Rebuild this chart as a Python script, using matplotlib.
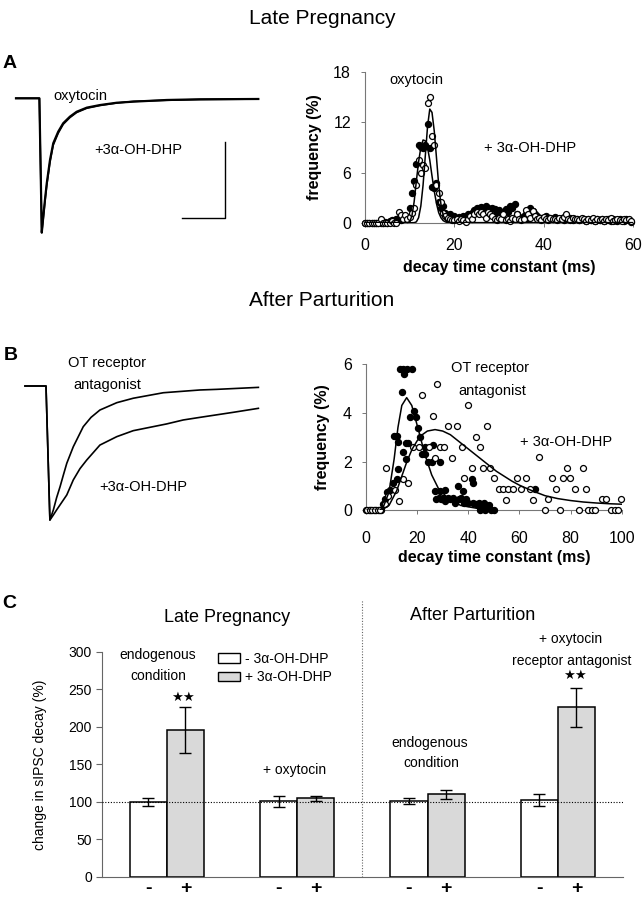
import numpy as np
import matplotlib
matplotlib.use('Agg')
import matplotlib.pyplot as plt
from matplotlib.patches import Patch

plt.rcParams['font.family'] = ['Liberation Sans', 'DejaVu Sans']

# ---- data -------------------------------------------------------------
# A: example traces (ms, pA)
trA_t = [0, 10.8, 11.9, 12.6, 13.4, 14.2, 15.7, 17.2, 19.5, 21.8, 24.9, 28.0,
         32.7, 38.8, 46.5, 54.2, 69.6, 85.0, 111.9]
trA_oxy = [0, 0, -87.8, -77.4, -66.0, -55.6, -40.3, -29.4, -21.8, -16.3, -12.0,
           -8.8, -6.1, -4.4, -2.9, -2.2, -1.1, -0.65, -0.45]
trA_dhp = [0, 0, -87.8, -78.4, -67.2, -57.0, -41.8, -30.6, -22.8, -17.0, -12.6,
           -9.3, -6.5, -4.7, -3.1, -2.0, -1.3, -0.8, -0.5]

# B: example traces (ms, pA)
trB_ant_t = [0, 9.7, 11.5, 13.1, 14.6, 16.2, 17.8, 19.3, 22.3, 26.9, 30.5, 34.6,
             42.4, 50.0, 63.9, 80.8, 88.5, 107.8]
trB_ant = [0, 0, -87.6, -81.0, -73.0, -65.8, -57.8, -50.5, -39.7, -26.6, -20.5,
           -15.7, -10.9, -8.0, -4.4, -2.6, -2.2, -0.9]
trB_dhp_t = [0, 9.7, 11.5, 13.0, 14.6, 17.0, 19.3, 22.3, 25.4, 28.5, 34.6, 42.4,
             50.0, 57.7, 65.4, 73.1, 80.8, 96.2, 107.8]
trB_dhp = [0, 0, -87.6, -84.5, -81.0, -76.0, -71.2, -61.4, -54.0, -48.4, -38.6,
           -33.1, -29.2, -27.0, -24.8, -22.2, -20.5, -17.2, -14.6]

scalebar_ms, scalebar_pA = 20, 50

# A: decay time constant histograms, 0.5 ms bins
binsA = np.arange(0, 60, 0.5)
A_filled = [0, 0, 0, 0, 0, 0, 0, 0, 0, 0.1,
            0, 0.2, 0.3, 0.2, 0.4, 0.6, 0.3, 0.5, 0.8, 0.4,
            1.8, 3.5, 5.0, 7.0, 9.3, 9.0, 8.9, 9.3, 11.8, 8.9,
            4.3, 4.1, 4.7, 2.5, 1.8, 2.0, 1.2, 0.9, 1.0, 0.6,
            0.8, 0.5, 0.7, 0.4, 0.8, 0.5, 1.0, 0.6, 1.2, 1.5,
            1.8, 1.8, 1.9, 1.8, 2.0, 1.8, 1.5, 1.8, 1.6, 1.2,
            1.5, 1.0, 1.2, 1.6, 1.3, 2.0, 1.8, 2.2, 1.0, 0.7,
            0.5, 0.8, 1.0, 0.6, 1.8, 1.4, 1.0, 0.8, 0.5, 0.6,
            0.4, 0.8, 0.5, 0.6, 0.4, 0.7, 0.5, 0.4, 0.6, 0.3,
            0.5, 0.4, 0.6, 0.3, 0.4, 0.5, 0.3, 0.5, 0.4, 0.2,
            0.4, 0.3, 0.5, 0.2, 0.4, 0.3, 0.5, 0.2, 0.3, 0.4,
            0.2, 0.5, 0.3, 0.2, 0.4, 0.3, 0.2, 0.4, 0.3, 0.1]
A_open = [0, 0, 0, 0, 0, 0, 0, 0.5, 0, 0,
          0, 0, 0.2, 0, 0, 1.3, 0.9, 0.5, 0.9, 0.5,
          0.7, 1.2, 1.8, 4.5, 7.5, 6.0, 6.9, 6.6, 14.3, 15.1,
          10.4, 9.3, 4.5, 3.5, 2.5, 1.2, 0.8, 0.6, 0.4, 0.3,
          0.3, 0.5, 0.2, 0.4, 0.3, 0.1, 0.4, 0.8, 0.5, 1.0,
          1.3, 1.0, 1.3, 1.0, 0.6, 1.3, 1.0, 0.8, 0.5, 0.3,
          0.6, 0.4, 1.0, 0.3, 0.5, 0.2, 0.6, 0.4, 1.0, 0.5,
          0.3, 0.5, 1.5, 1.0, 0.6, 1.4, 0.8, 0.4, 0.6, 0.3,
          0.7, 0.5, 0.3, 0.6, 0.4, 0.5, 0.3, 0.6, 0.4, 0.7,
          1.0, 0.5, 0.3, 0.6, 0.4, 0.5, 0.3, 0.6, 0.4, 0.2,
          0.5, 0.3, 0.6, 0.2, 0.4, 0.3, 0.5, 0.2, 0.4, 0.3,
          0.6, 0.2, 0.3, 0.5, 0.3, 0.2, 0.5, 0.3, 0.4, 0.2]
fitA_open_x = [0, 11, 11.5, 12, 12.5, 13, 13.5, 14, 14.5, 15, 15.5, 16, 16.5,
               17, 17.5, 18, 18.5, 19, 60]
fitA_open_y = [0, 0, 0.1, 0.6, 2.0, 4.5, 8.0, 11.5, 13.6, 13.2, 11.0, 7.8, 4.5,
               2.2, 0.9, 0.3, 0.05, 0, 0]
fitA_filled_x = [0, 9.5, 10, 10.5, 11, 11.5, 12, 12.5, 13, 13.5, 14, 14.5, 15,
                 15.5, 16, 16.5, 17, 17.5, 18, 18.5, 60]
fitA_filled_y = [0, 0, 0.1, 0.8, 2.5, 5.0, 7.3, 9.0, 9.9, 9.8, 9.0, 7.5, 5.6,
                 3.8, 2.3, 1.2, 0.6, 0.25, 0.1, 0, 0]

# B: decay time constant histograms
B_filled_x = [0, 1, 2, 3, 4, 5, 6, 6.8, 7.4, 8.1, 9.4, 10.7, 12.0, 12.6,
              11.1, 12.0, 12.6, 13.3, 14.2, 14.6, 15.0, 15.9, 17.9,
              14.5, 15.5, 15.7, 16.6, 17.2, 18.9, 19.4,
              20.2, 21.1, 22.0, 23.1, 23.1, 24.4, 25.7, 26.3,
              27.0, 28.9, 28.9, 30.9,
              27.5, 28.5, 29.5, 30, 31, 32, 33, 34, 35, 36, 36.5, 37, 38, 38.5,
              39, 40, 41.3, 41.7, 42, 43, 44, 44.5, 45, 46, 46.5, 47, 48, 49, 50,
              66.2]
B_filled_y = [0, 0, 0, 0, 0, 0, 0, 0.27, 0.48, 0.75, 0.82, 1.1, 1.3, 1.71,
              3.05, 3.05, 2.8, 5.8, 4.84, 5.8, 5.6, 5.8, 5.8,
              2.4, 2.1, 2.77, 2.77, 3.83, 4.07, 3.83,
              3.38, 3.01, 2.31, 2.6, 2.31, 2.0, 2.0, 2.68,
              0.8, 2.0, 0.78, 0.82,
              0.45, 0.5, 0.45, 0.5, 0.4, 0.5, 0.45, 0.5, 0.3, 1.0, 0.45, 0.5, 0.8, 0.3,
              0.45, 0.3, 1.3, 1.1, 0.3, 0.25, 0.3, 0, 0.1, 0.3, 0, 0.1, 0.2, 0, 0,
              0.89]
B_open_x = [0.5, 1.5, 2.5, 3.5, 4.5, 5.5,
            7.5, 8.0, 8.7, 11.3, 13.0, 14.6, 16.3, 18.5, 20.7, 21.8,
            24.5, 26.3, 27.0, 27.6, 28.9, 30.5, 32.2, 33.6, 35.5, 37.4,
            38.4, 39.8, 41.5, 42.9, 44.6, 45.8, 47.3, 48.5, 50.2, 52.1,
            53.7, 54.8, 55.7, 57.6, 58.9, 60.6, 62.6, 64.1, 65.4, 67.8,
            70.0, 71.3, 72.6, 74.3, 75.9, 76.9, 78.7, 79.8, 81.7, 83.4,
            84.7, 86.0, 86.9, 88.3, 89.6, 92.2, 93.9, 95.7, 97.4, 98.7,
            99.6]
B_open_y = [0, 0, 0, 0, 0, 0,
            0.27, 1.72, 0.6, 0.82, 0.4, 1.3, 1.12, 2.6, 2.6, 4.73,
            2.58, 3.88, 2.15, 5.17, 2.58, 2.58, 3.47, 2.15, 3.47, 2.58,
            1.33, 4.3, 1.74, 3.0, 2.58, 1.74, 3.45, 1.74, 1.33, 0.89,
            0.89, 0.44, 0.89, 0.89, 1.33, 0.89, 1.33, 0.89, 0.44, 2.17,
            0, 0.45, 1.33, 0.89, 0, 1.33, 1.74, 1.33, 0.89, 0,
            1.74, 0.89, 0, 0, 0, 0.45, 0.45, 0, 0, 0,
            0.45]
fitB_filled_x = [0, 5.5, 7, 9, 11, 12.5, 14, 15.9, 17.9, 20.5, 23, 25.7, 28.3,
                 32, 37, 44, 50]
fitB_filled_y = [0, 0, 0.2, 0.75, 2.1, 3.4, 4.3, 4.62, 4.3, 3.3, 2.3, 1.45, 0.9,
                 0.5, 0.2, 0.07, 0]
fitB_open_x = [6, 9, 12, 14, 16, 18, 20, 22, 24, 27, 30, 33, 36, 39, 42, 45, 48,
               51, 54, 57, 60, 65, 70, 75, 80, 85, 90, 95, 100]
fitB_open_y = [0, 0.2, 0.8, 1.4, 2.0, 2.5, 2.85, 3.1, 3.25, 3.31, 3.25, 3.1,
               2.85, 2.6, 2.35, 2.1, 1.85, 1.6, 1.4, 1.2, 1.03, 0.8, 0.6, 0.48,
               0.4, 0.34, 0.3, 0.27, 0.25]

# C: change in sIPSC decay (%)
conditions = ['LP endogenous', 'LP + oxytocin', 'AP endogenous', 'AP + OT antagonist']
minus_vals = [100, 101, 101, 102]
minus_err = [5, 7.5, 4, 8]
plus_vals = [196, 105, 110, 226]
plus_err = [31, 3.5, 6.5, 26]

# ---- figure -----------------------------------------------------------
W, H = 644, 899
fig = plt.figure(figsize=(W / 100, H / 100), dpi=100)


def px_axes(l, t, r, b):
    return fig.add_axes([l / W, 1 - b / H, (r - l) / W, (b - t) / H])


def ftext(x, y, s, **kw):
    kw.setdefault('ha', 'center')
    kw.setdefault('va', 'center')
    fig.text(x / W, 1 - y / H, s, **kw)


ms_px, pA_px = 2.165, 1.53


def trace_axes(l, t, r, b, x0, y0):
    ax = px_axes(l, t, r, b)
    ax.set_xlim((l - x0) / ms_px, (r - x0) / ms_px)
    ax.set_ylim((y0 - b) / pA_px, (y0 - t) / pA_px)
    ax.axis('off')
    return ax


def hist_axes(ax, xt, yt, xpad):
    for s in ['top', 'right']:
        ax.spines[s].set_visible(False)
    for s in ['left', 'bottom']:
        ax.spines[s].set_color('#777777')
        ax.spines[s].set_linewidth(0.8)
    ax.set_xticks(xt)
    ax.set_yticks(yt)
    ax.tick_params(direction='out', length=3, width=0.7, color='#777777',
                   labelsize=11.5)
    ax.tick_params(axis='y', pad=7)
    ax.tick_params(axis='x', pad=xpad)
    ax.set_ylabel('frequency (%)', fontsize=11.5, fontweight='bold')
    ax.set_xlabel('decay time constant (ms)', fontsize=11.5, fontweight='bold')


def place_labels(ax, l, t, r, b, ylab_right, xlab_top):
    ax.yaxis.set_label_coords((ylab_right - l) / (r - l), 0.5)
    ax.xaxis.set_label_coords(0.5, -(xlab_top - b) / (b - t))


ms = 4.3
# titles and panel letters
ftext(322, 19, 'Late Pregnancy', fontsize=15)
ftext(322, 300, 'After Parturition', fontsize=15)
ftext(10, 64, 'A', fontsize=14, fontweight='bold')
ftext(11, 356, 'B', fontsize=14, fontweight='bold')
ftext(9, 603, 'C', fontsize=14, fontweight='bold')

# --- A traces
axT = trace_axes(0, 55, 300, 245, 16, 98.3)
axT.plot(trA_t, trA_oxy, color='black', lw=1.6)
axT.plot(trA_t, trA_dhp, color='black', lw=1.2)
sb_t, sb_i = 96.5, -78.4
axT.plot([sb_t - scalebar_ms, sb_t, sb_t], [sb_i, sb_i, sb_i + scalebar_pA],
         color='black', lw=1)
ftext(80, 96, 'oxytocin', fontsize=10.5)
ftext(138, 150, '+3α-OH-DHP', fontsize=10.5)

# --- A histogram
A_box = (365, 72.3, 633, 222.7)
axA = px_axes(*A_box)
axA.set_xlim(0, 60)
axA.set_ylim(0, 18)
axA.plot(binsA, A_filled, 'o', color='black', ms=ms, clip_on=False, zorder=3)
axA.plot(binsA, A_open, 'o', mfc='white', mec='black', ms=ms, mew=0.9,
         clip_on=False, zorder=4)
axA.plot(fitA_open_x, fitA_open_y, color='black', lw=1.1, zorder=5)
axA.plot(fitA_filled_x, fitA_filled_y, color='black', lw=1.1, zorder=5)
hist_axes(axA, [0, 20, 40, 60], [0, 6, 12, 18], xpad=8)
place_labels(axA, *A_box, ylab_right=322, xlab_top=260)
ftext(416, 80, 'oxytocin', fontsize=10.5)
ftext(530, 148, '+ 3α-OH-DHP', fontsize=10.5)

# --- B traces
axT2 = trace_axes(0, 340, 300, 560, 25, 386)
axT2.plot(trB_ant_t, trB_ant, color='black', lw=1.2)
axT2.plot(trB_dhp_t, trB_dhp, color='black', lw=1.2)
ftext(107, 363, 'OT receptor', fontsize=10.5)
ftext(107, 385, 'antagonist', fontsize=10.5)
ftext(143, 487, '+3α-OH-DHP', fontsize=10.5)

# --- B histogram
B_box = (366, 364, 621.7, 510.3)
axB = px_axes(*B_box)
axB.set_xlim(0, 100)
axB.set_ylim(0, 6)
axB.plot(B_filled_x, B_filled_y, 'o', color='black', ms=ms, clip_on=False, zorder=3)
axB.plot(B_open_x, B_open_y, 'o', mfc='white', mec='black', ms=ms, mew=0.9,
         clip_on=False, zorder=4)
axB.plot(fitB_filled_x, fitB_filled_y, color='black', lw=1.1, zorder=5)
axB.plot(fitB_open_x, fitB_open_y, color='black', lw=1.1, zorder=5)
hist_axes(axB, [0, 20, 40, 60, 80, 100], [0, 2, 4, 6], xpad=12)
place_labels(axB, *B_box, ylab_right=330, xlab_top=550)
ftext(490, 368, 'OT receptor', fontsize=10.5)
ftext(492, 391, 'antagonist', fontsize=10.5)
ftext(566, 442, '+ 3α-OH-DHP', fontsize=10.5)

# --- C bar chart
C_box = (101.7, 651.7, 623, 877)
axC = px_axes(*C_box)
group_pitch = 3.5
gx = np.arange(len(conditions)) * group_pitch
xm, xp = gx, gx + 1
axC.set_xlim(-1.25, gx[-1] + 2.25)
axC.set_ylim(0, 300)
axC.bar(xm, minus_vals, width=1, color='white', edgecolor='black', lw=1.1,
        zorder=2, label='- 3α-OH-DHP')
axC.bar(xp, plus_vals, width=1, color='#d9d9d9', edgecolor='black', lw=1.1,
        zorder=2, label='+ 3α-OH-DHP')
axC.errorbar(xm, minus_vals, yerr=minus_err, fmt='none', ecolor='black',
             elinewidth=1, capsize=4, capthick=1, zorder=3)
axC.errorbar(xp, plus_vals, yerr=plus_err, fmt='none', ecolor='black',
             elinewidth=1, capsize=4, capthick=1, zorder=3)
axC.axhline(100, color='black', lw=0.8, ls=(0, (1, 1.5)), zorder=4)
axC.axvline((gx[1] + gx[2] + 1) / 2, ymin=0, ymax=1.23, color='#666666', lw=0.8,
            ls=(0, (1, 1.5)), clip_on=False)
for s in ['top', 'right']:
    axC.spines[s].set_visible(False)
axC.spines['left'].set_color('#666666')
axC.spines['bottom'].set_color('#666666')
axC.set_yticks(np.arange(0, 301, 50))
axC.tick_params(axis='y', direction='out', length=4, color='#666666',
                labelsize=10, pad=3)
axC.set_xticks(np.concatenate([xm, xp]))
axC.set_xticklabels(['-'] * 4 + ['+'] * 4, fontsize=14, fontweight='bold')
axC.tick_params(axis='x', length=0, pad=2)
axC.set_ylabel('change in sIPSC decay (%)', fontsize=10)
place_labels(axC, *C_box, ylab_right=47, xlab_top=890)

handles = [Patch(facecolor='white', edgecolor='black', lw=1),
           Patch(facecolor='#d9d9d9', edgecolor='black', lw=1)]
axC.legend(handles, ['- 3α-OH-DHP', '+ 3α-OH-DHP'], loc='upper left',
           bbox_to_anchor=(218 / W, 1 - 652 / H), bbox_transform=fig.transFigure,
           frameon=False, fontsize=10, handlelength=1.6, handleheight=0.65,
           handletextpad=0.35, labelspacing=0.3, borderaxespad=0, borderpad=0)

ftext(227, 618, 'Late Pregnancy', fontsize=13)
ftext(473, 615, 'After Parturition', fontsize=13)
ftext(158, 655, 'endogenous', fontsize=10)
ftext(158, 676, 'condition', fontsize=10)
ftext(183, 698, '★★', fontsize=9.5)
ftext(295, 770, '+ oxytocin', fontsize=10)
ftext(430, 743, 'endogenous', fontsize=10)
ftext(431, 763, 'condition', fontsize=10)
ftext(571, 639, '+ oxytocin', fontsize=10)
ftext(572, 661, 'receptor antagonist', fontsize=10)
ftext(575, 676, '★★', fontsize=9.5)

fig.savefig('out.png', dpi=100)
